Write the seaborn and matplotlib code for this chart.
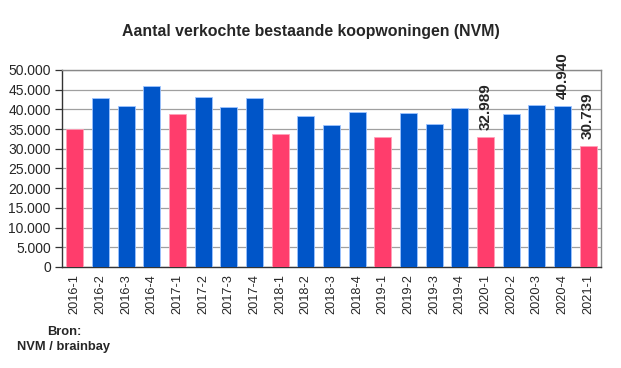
import numpy as np
import pandas as pd
import matplotlib.pyplot as plt
import seaborn as sns

# quarters and number of sold existing homes (NVM)
quarters = ["2016-1", "2016-2", "2016-3", "2016-4",
            "2017-1", "2017-2", "2017-3", "2017-4",
            "2018-1", "2018-2", "2018-3", "2018-4",
            "2019-1", "2019-2", "2019-3", "2019-4",
            "2020-1", "2020-2", "2020-3", "2020-4",
            "2021-1"]
sales = [35000, 43000, 40850, 45850,
         38800, 43200, 40700, 42800,
         33800, 38300, 36000, 39200,
         32970, 39000, 36270, 40250,
         32989, 38730, 41100, 40940,
         30739]
labelled = {"2020-1": "32.989", "2020-4": "40.940", "2021-1": "30.739"}

red = "#FF3D6C"
blue = "#0055C8"
colors = [red if q.endswith("-1") else blue for q in quarters]
edges = ["#ffa0b8" if q.endswith("-1") else "#9ec4ff" for q in quarters]

df = pd.DataFrame({"quarter": quarters, "sales": sales})

sns.set_style("white")
plt.rcParams['font.family'] = ['Liberation Sans', 'DejaVu Sans']

fig = plt.figure(figsize=(6.21, 3.68), dpi=100)
ax = fig.add_axes([0.0998, 0.2745, 0.868, 0.5355])

sns.barplot(ax=ax, data=df, x="quarter", y="sales", hue="quarter",
            palette=colors, legend=False, width=0.66, saturation=1,
            linewidth=0.6, zorder=3)
for patch, ec in zip(ax.patches, edges):
    patch.set_edgecolor(ec)

ax.set_ylim(0, 50000)
ax.set_xlim(-0.5, len(quarters) - 0.5)
ax.set_yticks(np.arange(0, 50001, 5000))
ax.set_yticklabels([f"{v:,}".replace(",", ".") for v in range(0, 50001, 5000)],
                   fontsize=10)
ax.yaxis.grid(True, color="#a0a0a0", linewidth=0.9, zorder=0)
ax.set_axisbelow(True)

ax.set_xticks(range(len(quarters)))
ax.set_xticklabels(quarters, rotation=90, fontsize=9.2)
ax.tick_params(axis="x", length=0, pad=5)
# tick marks between the categories
ax.set_xticks(np.arange(-0.5, len(quarters), 1), minor=True)
ax.tick_params(axis="x", which="minor", length=5, width=0.9, direction="inout", color="#333333")
ax.tick_params(axis="y", length=5, width=0.9, direction="out", left=True, color="#333333", pad=3)
ax.set(xlabel="", ylabel="")

for side in ["top", "right"]:
    ax.spines[side].set_color("#888888")
    ax.spines[side].set_linewidth(1.0)
for side in ["left", "bottom"]:
    ax.spines[side].set_color("#333333")
    ax.spines[side].set_linewidth(1.0)

for i, q in enumerate(quarters):
    if q in labelled:
        ax.text(i, sales[i] + 1800, labelled[q], rotation=90, ha="center",
                va="bottom", fontsize=11, fontweight="bold", clip_on=False)

fig.text(0.5, 0.915, "Aantal verkochte bestaande koopwoningen (NVM)",
         ha="center", va="center", fontsize=11.4, fontweight="bold")
fig.text(0.103, 0.098, "Bron:", ha="center", va="center", fontsize=9.3, fontweight="bold")
fig.text(0.103, 0.057, "NVM / brainbay", ha="center", va="center", fontsize=9.3, fontweight="bold")

fig.savefig("out.png", dpi=100)
